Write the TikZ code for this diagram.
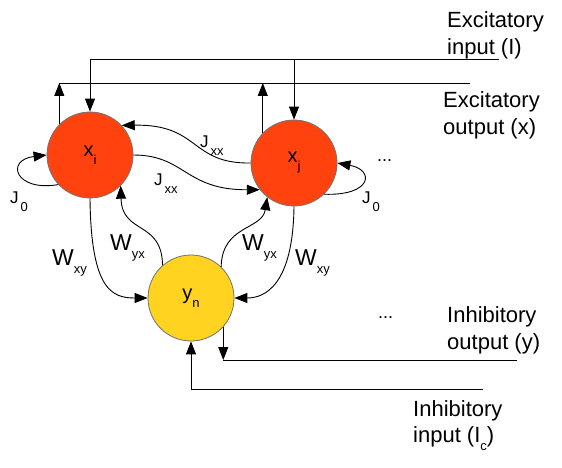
\documentclass[tikz,border=0pt]{standalone}
\usepackage{fontspec}
\setmainfont{Liberation Sans}
\usetikzlibrary{arrows.meta}
\definecolor{xred}{HTML}{FF420E}
\definecolor{yyel}{HTML}{FFD320}
\newcommand{\lsub}[1]{\raisebox{-8pt}{\fontsize{13}{13}\selectfont #1}}
\begin{document}
\begin{tikzpicture}[x=1pt,y=-1pt,
  neuron/.style={circle,draw=black!55,line width=0.8pt,minimum size=86pt,inner sep=0pt,font=\fontsize{20}{24}\selectfont},
  xneuron/.style={neuron,fill=xred},
  yneuron/.style={neuron,fill=yyel},
  wire/.style={line width=0.9pt},
  arr/.style={wire,-{Triangle[length=13pt,width=10pt]}},
  lab/.style={anchor=base west,inner sep=0pt,font=\fontsize{22}{26}\selectfont},
  jlab/.style={anchor=base west,inner sep=0pt,font=\fontsize{17}{20}\selectfont},
  wlab/.style={anchor=base west,inner sep=0pt,font=\fontsize{23}{26}\selectfont},
  dots/.style={anchor=base west,inner sep=0pt,font=\fontsize{18}{20}\selectfont},
]
\useasboundingbox[fill=white] (0,0) rectangle (562,468);

\node[xneuron] (xi) at (90,155) {x\lsub{i}};
\node[xneuron] (xj) at (294,163) {x\lsub{j}};
\node[yneuron] (yn) at (191,298) {y\lsub{n}};

\coordinate (inL) at (90,59);
\coordinate (inM) at (294,59);
\coordinate (inR) at (499,59);
\coordinate (outR) at (470,83);
\coordinate (outL) at (xi.135 |- outR);
\coordinate (yoR) at (517,360);
\coordinate (yoL) at (yn.-42 |- yoR);
\coordinate (yiR) at (483,389);
\coordinate (yiL) at (yn.south |- yiR);

\draw[wire] (inL) -- (inR);
\draw[arr] (inL) -- (xi.north);
\draw[arr] (inM) -- (xj.north);
\draw[wire] (outL) -- (outR);
\draw[arr] (xi.135) -- (outL);
\draw[arr] (xj.136) -- (xj.136 |- outR);

\draw[arr] (xj.west) .. controls (190,164) and (200,124) .. (xi.43);
\draw[arr] (xi.east) .. controls (185,155) and (185,190) .. (xj.218);
\draw[arr] (xi.223) .. controls (15,192) and (5,160) .. (xi.west);
\draw[arr] (xj.-46) .. controls (372,196) and (375,170) .. (xj.east);
\draw[arr] (xi.south) .. controls (91,290) and (112,298) .. (yn.west);
\draw[arr] (yn.131) .. controls (162,220) and (122,235) .. (xi.-45);
\draw[arr] (yn.46) .. controls (222,225) and (262,230) .. (xj.232);
\draw[arr] (xj.south) .. controls (293,285) and (265,298) .. (yn.east);

\draw[arr] (yn.-42) -- (yoL);
\draw[wire] (yoL) -- (yoR);
\draw[wire] (yiR) -- (yiL);
\draw[arr] (yiL) -- (yn.south);

\node[jlab] (j1) at (200,147) {J\hspace{2pt}\lsub{xx}};
\node[jlab] (j2) at (154,185) {J\hspace{2pt}\lsub{xx}};
\node[jlab] (j3) at (10,203) {J\hspace{2pt}\lsub{0}};
\node[jlab] (j4) at (362,203) {J\hspace{2pt}\lsub{0}};
\node[wlab] (w1) at (52,265) {W\lsub{xy}};
\node[wlab] (w2) at (110,250) {W\lsub{yx}};
\node[wlab] (w3) at (242,250) {W\lsub{yx}};
\node[wlab] (w4) at (295,265) {W\lsub{xy}};

\node[dots] (d1) at (377,161) {...};
\node[dots] (d2) at (378,318) {...};

\node[lab] (t1) at (447,28) {Excitatory};
\node[lab] (t2) at (447,55) {input (I)};
\node[lab] (t3) at (443,108) {Excitatory};
\node[lab] (t4) at (443,135) {output (x)};
\node[lab] (t5) at (447,322) {Inhibitory};
\node[lab] (t6) at (447,349) {output (y)};
\node[lab] (t7) at (413,416) {Inhibitory};
\node[lab] (t8) at (413,442) {input (I\lsub{c})};
\end{tikzpicture}
\end{document}
